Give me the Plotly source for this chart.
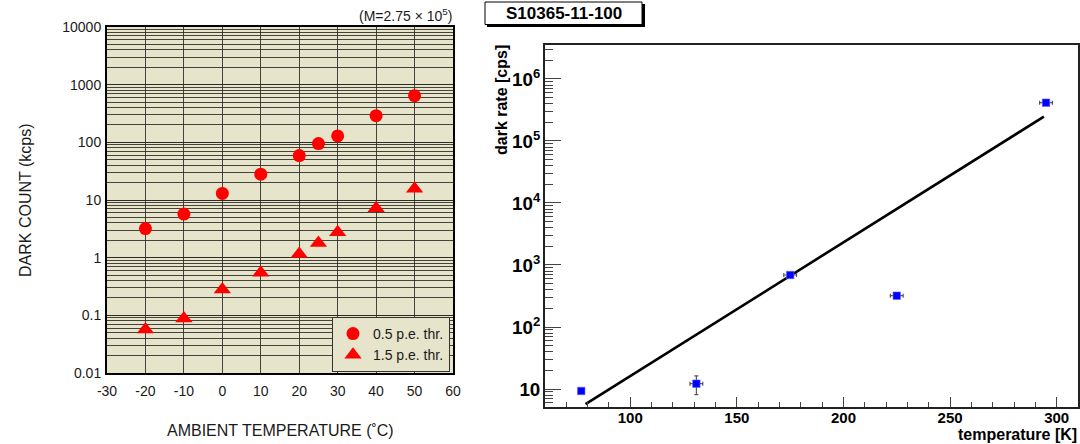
import plotly.graph_objects as go

# ---- Left panel: dark count vs ambient temperature ----
amb_temp = [-20, -10, 0, 10, 20, 25, 30, 40, 50]
count_05pe = [3.2, 5.7, 13, 28, 59, 95, 129, 290, 645]
count_15pe = [0.057, 0.088, 0.28, 0.55, 1.16, 1.8, 2.77, 7.2, 15.6]
left_yticks = [0.01, 0.1, 1, 10, 100, 1000, 10000]
left_yticktext = ["0.01", "0.1", "1", "10", "100", "1000", "10000"]
left_xticks = [-30, -20, -10, 0, 10, 20, 30, 40, 50, 60]
left_xticktext = ["-30", "-20", "-10", "0", "10", "20", "30", "40", "50", "60"]

# ---- Right panel: dark rate vs temperature for S10365-11-100 ----
temp_k = [77, 131, 175, 225, 295]
rate_cps = [9.3, 12.2, 690, 320, 415000]
temp_err = [0, 3, 3, 3, 3]
rate_err = [0, 4.1, 0, 0, 0]
fit_temp = [79, 294]
fit_rate = [5.7, 247000]

W, H = 1080, 444


def px(x):
    return x / W


def py(y):
    return 1 - y / H


BEIGE = "#e6e4ca"
GRID = "rgba(40,40,35,0.85)"
SANS = "Liberation Sans, Arial, Helvetica, sans-serif"

fig = go.Figure()

fig.add_trace(go.Scatter(
    x=amb_temp, y=count_05pe, mode="markers", name="0.5 p.e. thr.",
    marker=dict(symbol="circle", size=13, color="#ff0000"),
    xaxis="x", yaxis="y",
))
fig.add_trace(go.Scatter(
    x=amb_temp, y=count_15pe, mode="markers", name="1.5 p.e. thr.",
    marker=dict(symbol="triangle-up", size=15, color="#ff0000"),
    xaxis="x", yaxis="y",
))

fig.add_trace(go.Scatter(
    x=fit_temp, y=fit_rate, mode="lines", showlegend=False,
    line=dict(color="black", width=2.6),
    xaxis="x2", yaxis="y2",
))
fig.add_trace(go.Scatter(
    x=temp_k, y=rate_cps, mode="markers", showlegend=False,
    marker=dict(symbol="square", size=7.5, color="#0000ff",
                line=dict(color="#6a6aff", width=0.6)),
    error_x=dict(type="data", array=temp_err, color="#555555", thickness=1.2, width=2),
    error_y=dict(type="data", array=rate_err, color="#555555", thickness=1.2, width=2),
    xaxis="x2", yaxis="y2",
))

fig.update_layout(
    width=W, height=H,
    margin=dict(l=0, r=0, t=0, b=0, autoexpand=False),
    paper_bgcolor="white",
    plot_bgcolor="white",
    font=dict(family=SANS, color="#1a1a1a"),
    xaxis=dict(
        domain=[px(107), px(453)], anchor="y", range=[-30, 60], automargin=False,
        tickmode="array", tickvals=left_xticks, ticktext=left_xticktext,
        tickfont=dict(size=14, color="#1a1a1a"),
        ticks="outside", ticklen=4, tickcolor="rgba(0,0,0,0)",
        showgrid=True, gridcolor=GRID, gridwidth=1,
        showline=True, linecolor="black", linewidth=2, mirror=True,
        zeroline=False,
    ),
    yaxis=dict(
        domain=[py(373), py(27)], anchor="x", type="log", range=[-2, 4], automargin=False,
        tickmode="array", tickvals=left_yticks, ticktext=left_yticktext,
        tickfont=dict(size=14, color="#1a1a1a"),
        ticks="outside", ticklen=1, tickcolor="rgba(0,0,0,0)",
        showgrid=True, gridcolor=GRID, gridwidth=1,
        minor=dict(dtick="D1", showgrid=True, gridcolor=GRID, gridwidth=1, ticks=""),
        showline=True, linecolor="black", linewidth=2, mirror=True,
        zeroline=False,
    ),
    xaxis2=dict(
        domain=[px(545), px(1078)], anchor="y2", range=[60, 310], automargin=False,
        tick0=0, dtick=50, ticklabelstandoff=-3,
        tickfont=dict(size=15, color="black", weight="bold"),
        ticks="inside", ticklen=10, tickcolor="#444444", tickwidth=1.2,
        minor=dict(dtick=10, ticks="inside", ticklen=5, tickcolor="#444444", tickwidth=1.2, showgrid=False),
        showgrid=False, zeroline=False,
        showline=True, linecolor="#222222", linewidth=1.5, mirror=True,
    ),
    yaxis2=dict(
        domain=[py(406.7), py(44.7)], anchor="x2", type="log", range=[0.7145, 6.553],
        automargin=False, dtick=1, exponentformat="power",
        tickfont=dict(size=15, color="black", weight="bold"),
        ticks="inside", ticklen=16, tickcolor="#444444", tickwidth=1.2,
        minor=dict(dtick="D1", ticks="inside", ticklen=8, tickcolor="#444444", tickwidth=1.2, showgrid=False),
        showgrid=False, zeroline=False,
        showline=True, linecolor="#222222", linewidth=1.5, mirror=True,
    ),
    legend=dict(
        x=px(332), y=py(317), xanchor="left", yanchor="top",
        bgcolor=BEIGE, bordercolor="#333333", borderwidth=1,
        font=dict(size=14, color="#1a1a1a"),
        itemwidth=30, tracegroupgap=0,
    ),
    shapes=[
        # beige panel background for the left chart
        dict(type="rect", xref="x domain", yref="y domain", x0=0, x1=1, y0=0, y1=1,
             fillcolor=BEIGE, line=dict(width=0), layer="below"),
        # title box shadow and frame
        dict(type="rect", xref="paper", yref="paper",
             x0=px(487), x1=px(645), y0=py(27), y1=py(4),
             fillcolor="black", line=dict(width=0)),
        dict(type="rect", xref="paper", yref="paper",
             x0=px(485), x1=px(642), y0=py(24.5), y1=py(2),
             fillcolor="white", line=dict(color="black", width=1)),
    ],
    annotations=[
        dict(text="(M=2.75 × 10<sup>5</sup>)", xref="paper", yref="paper",
             x=px(454), y=py(15), xanchor="right", yanchor="middle",
             showarrow=False, font=dict(size=14, color="#1a1a1a")),
        dict(text="DARK COUNT (kcps)", xref="paper", yref="paper",
             x=px(25), y=py(200), xanchor="center", yanchor="middle", textangle=-90,
             showarrow=False, font=dict(size=16, color="#1a1a1a")),
        dict(text="AMBIENT TEMPERATURE (˚C)", xref="paper", yref="paper",
             x=px(280), y=py(430), xanchor="center", yanchor="middle",
             showarrow=False, font=dict(size=16, color="#1a1a1a")),
        dict(text="S10365-11-100", xref="paper", yref="paper",
             x=px(563.5), y=py(13.5), xanchor="center", yanchor="middle",
             showarrow=False, font=dict(size=17, color="black", weight="bold")),
        dict(text="dark rate [cps]", xref="paper", yref="paper",
             x=px(501), y=py(43), xanchor="center", yanchor="top", textangle=-90,
             showarrow=False, font=dict(size=16, color="black", weight="bold")),
        dict(text="temperature [K]", xref="paper", yref="paper",
             x=px(1078), y=py(444), xanchor="right", yanchor="bottom", borderpad=0,
             showarrow=False, font=dict(size=16, color="black", weight="bold")),
    ],
)

fig.write_html("out.html")
